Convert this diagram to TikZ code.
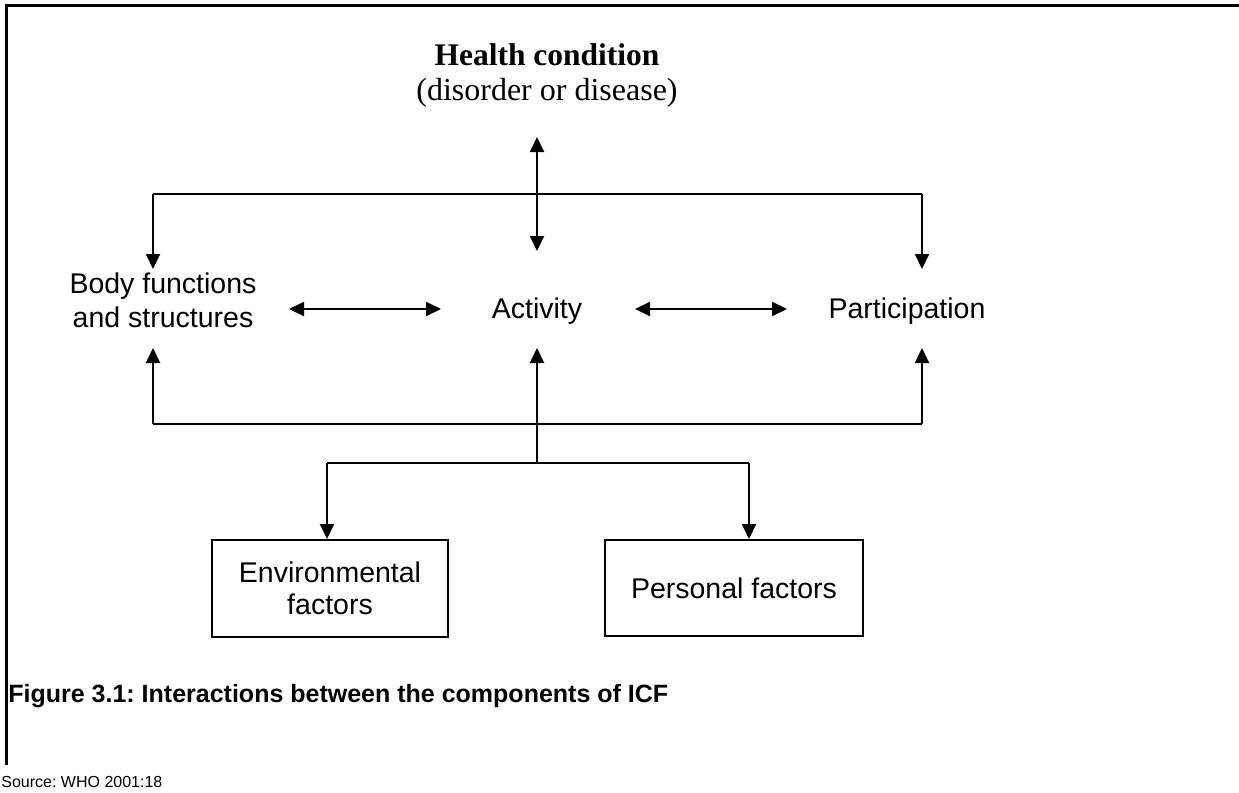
\documentclass[tikz,border=0pt]{standalone}
\usepackage{fontspec}
\setmainfont{Liberation Sans}
\newfontfamily\serfont{Liberation Serif}
\usetikzlibrary{arrows.meta}
\frenchspacing
\begin{document}
\begin{tikzpicture}[x=0.5pt,y=-0.5pt]
\tikzset{
  lab/.style={inner sep=0pt, anchor=base, font=\fontsize{14.25}{17}\selectfont},
  serlab/.style={inner sep=0pt, anchor=base, font=\serfont\fontsize{16}{17.5}\selectfont},
  conn/.style={line width=1pt, draw=black},
  arr/.style={conn, -{Triangle[length=7.5pt,width=7pt]}},
  darr/.style={conn, {Triangle[length=7.5pt,width=7pt]}-{Triangle[length=7.5pt,width=7pt]}},
  factorbox/.style={draw, line width=1pt, inner sep=0pt, align=center,
    font=\fontsize{14.25}{16}\selectfont},
  frame/.style={line width=1.5pt, draw=black}
}
\useasboundingbox (0,0) rectangle (1239,793);
\fill[white] (0,0) rectangle (1239,793);
% frame (cropped on right and bottom)
\coordinate (frTR) at (1239,5);
\coordinate (frTL) at (6,5);
\coordinate (frBL) at (6,765);
\draw[frame] (frTR) -- (frTL) -- (frBL);

% texts
\node[serlab, font=\serfont\bfseries\fontsize{15.75}{17.5}\selectfont] (health) at (547,65) {Health condition};
\node[serlab] (healthsub) at (547,100) {(disorder or disease)};
\node[lab] (body) at (163,293) {\begin{tabular}[t]{@{}c@{}}Body functions\\and structures\end{tabular}};
\node[lab] (act) at (537,318) {Activity};
\node[lab] (part) at (907,318) {Participation};
\node[factorbox, minimum width=118pt, minimum height=48.5pt, anchor=north west] (env) at (211,539) {Environmental\\factors};
\node[factorbox, minimum width=129pt, minimum height=48pt, anchor=north west] (pers) at (604,539) {Personal factors};
\node[inner sep=0pt, anchor=base west, font=\bfseries\fontsize{12.5}{15}\selectfont] (cap) at (8,702) {Figure 3.1: Interactions between the components of ICF};
\node[inner sep=0pt, anchor=base west, font=\fontsize{8}{10}\selectfont] (src) at (1,787) {Source: WHO 2001:18};

% connector points
\coordinate (hTop) at (537,137);
\coordinate (hBot) at (537,251);
\coordinate (topL) at (153,194);
\coordinate (topR) at (922,194);
\coordinate (bodyTop) at (153,269);
\coordinate (partTop) at (922,269);
\coordinate (bodyR) at (289,309);
\coordinate (actL) at (441,309);
\coordinate (actR) at (635,309);
\coordinate (partL) at (787,309);
\coordinate (bodyBot) at (153,348);
\coordinate (actBot) at (537,348);
\coordinate (partBot) at (922,348);
\coordinate (botL) at (153,424);
\coordinate (botR) at (922,424);
\coordinate (fork) at (537,463);
\coordinate (forkL) at (327,463);
\coordinate (forkR) at (749,463);

% health <-> activity
\draw[darr] (hTop) -- (hBot);
\draw[conn] (topL) -- (topR);
\draw[arr] (topL) -- (bodyTop);
\draw[arr] (topR) -- (partTop);
% horizontal interactions
\draw[darr] (bodyR) -- (actL);
\draw[darr] (actR) -- (partL);
% lower bar
\draw[arr] (botL) -- (bodyBot);
\draw[arr] (botR) -- (partBot);
\draw[conn] (botL) -- (botR);
\draw[arr] (fork) -- (actBot);
\draw[conn] (forkL) -- (forkR);
\draw[arr] (forkL) -- (forkL |- env.north);
\draw[arr] (forkR) -- (forkR |- pers.north);
\end{tikzpicture}
\end{document}
